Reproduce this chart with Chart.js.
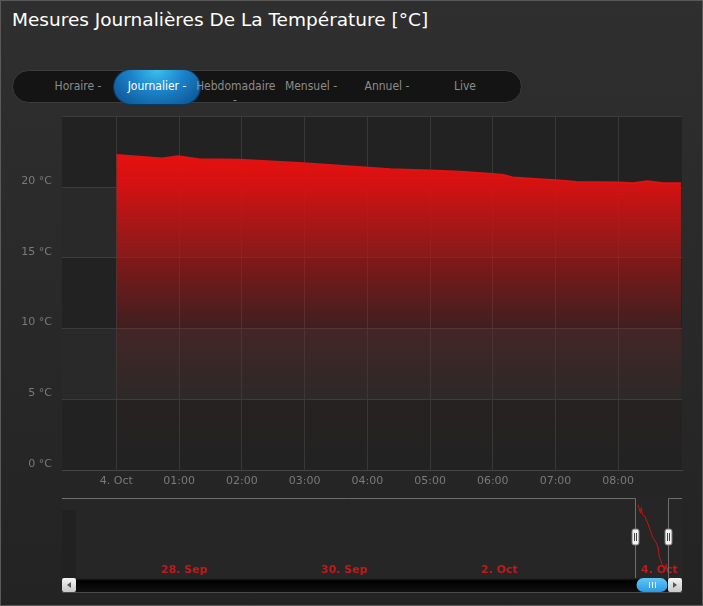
<!DOCTYPE html>
<html>
<head>
<meta charset="utf-8">
<script src="https://cdn.jsdelivr.net/npm/chart.js@4.4.0/dist/chart.umd.min.js"></script>
<style>
html, body { margin: 0; padding: 0; background: #262626; }
#frame {
    position: relative; width: 701px; height: 604px;
    border: 1px solid #5a5a5a;
    background: linear-gradient(#2f2f2f, #232323);
    overflow: hidden;
}
#title {
    position: absolute; left: 11px; top: 8px;
    color: #fff; font: 18.5px 'DejaVu Sans', sans-serif;
    white-space: nowrap;
}
#bar {
    position: absolute; left: 11px; top: 69px; width: 508px; height: 31px;
    background: #141414; border: 1px solid #3c3c3c; border-radius: 17px;
}
.btn {
    position: absolute; top: 78px; width: 78px; text-align: center;
    color: #8c8c8c; font: 12px 'DejaVu Sans Condensed', 'DejaVu Sans', sans-serif;
    line-height: 14px; white-space: nowrap;
}
#active {
    position: absolute; left: 113px; top: 69px; width: 86px; height: 34px;
    border-radius: 17px;
    background: radial-gradient(ellipse at 50% 0%, #3cc0ee 0%, #1b82c9 45%, #0b4e8a 100%);
    box-shadow: 0 0 0 1px #0a3a66;
}
#active + .btn { color: #fff; }
canvas { position: absolute; left: 0; }
#main { top: 99px; }
#nav { top: 494px; }
</style>
</head>
<body>
<div id="frame">
    <div id="title">Mesures Journalières De La Température [°C]</div>
    <div id="bar"></div>
    <div class="btn" style="left:38px">Horaire -</div>
    <div id="active"></div>
    <div class="btn" style="left:117px">Journalier -</div>
    <div class="btn" style="left:195px">Hebdomadaire<br>-</div>
    <div class="btn" style="left:271px">Mensuel -</div>
    <div class="btn" style="left:347px">Annuel -</div>
    <div class="btn" style="left:425px">Live</div>
    <canvas id="main" width="702" height="395"></canvas>
    <canvas id="nav" width="702" height="110"></canvas>
</div>
<script>
// minutes since 4 Oct 00:00, and temperature readings (°C)
const times = [0, 44, 59, 79, 118, 179, 224, 262, 300, 329, 360, 370, 379, 408, 421, 440, 480, 494, 508, 523, 540];
const temps = [22.29, 22.03, 22.2, 21.99, 21.94, 21.7, 21.47, 21.28, 21.18, 21.1, 20.94, 20.87, 20.69, 20.55, 20.5, 20.38, 20.33, 20.28, 20.43, 20.28, 20.28];

const hourTicks = [0, 60, 120, 180, 240, 300, 360, 420, 480];
const hourLabels = ['4. Oct', '01:00', '02:00', '03:00', '04:00', '05:00', '06:00', '07:00', '08:00'];

// navigator: days relative to 4 Oct
const navDays = [-6, -4, -2, 0];
const navLabels = ['28. Sep', '30. Sep', '2. Oct', '4. Oct'];

const viewMin = -52;
const viewMax = 541;
const bandRanges = [[15, 20], [5, 10]];

const points = times.map((t, i) => ({ x: t, y: temps[i] }));
const navPoints = times.map((t, i) => ({ x: t / 1440, y: temps[i] }));

const tickFont = { family: 'DejaVu Sans', size: 11 };

const bandsPlugin = {
    id: 'bands',
    beforeDraw(chart) {
        const { ctx, chartArea: a, scales: { y } } = chart;
        ctx.save();
        ctx.fillStyle = '#222222';
        ctx.fillRect(a.left, a.top, a.width, a.height);
        ctx.fillStyle = '#292929';
        bandRanges.forEach(([lo, hi]) => {
            const y0 = y.getPixelForValue(hi);
            const y1 = y.getPixelForValue(lo);
            ctx.fillRect(a.left, y0, a.width, y1 - y0);
        });
        ctx.restore();
    }
};

new Chart(document.getElementById('main'), {
    type: 'line',
    data: {
        datasets: [{
            data: points,
            borderColor: '#e01212',
            borderWidth: 2,
            pointRadius: 0,
            tension: 0,
            fill: 'origin',
            backgroundColor: (c) => {
                const a = c.chart.chartArea;
                if (!a) return 'rgba(220,16,16,0.5)';
                const g = c.chart.ctx.createLinearGradient(0, a.top, 0, a.bottom);
                g.addColorStop(0.1, 'rgba(234,16,16,1)');
                g.addColorStop(0.2, 'rgba(222,16,16,0.93)');
                g.addColorStop(0.4, 'rgba(205,16,16,0.56)');
                g.addColorStop(0.6, 'rgba(190,20,20,0.19)');
                g.addColorStop(0.8, 'rgba(160,30,30,0.04)');
                g.addColorStop(1, 'rgba(160,30,30,0)');
                return g;
            }
        }]
    },
    options: {
        responsive: false,
        animation: false,
        layout: { padding: { top: 7, right: 21, left: 0, bottom: 0 } },
        plugins: { legend: { display: false }, tooltip: { enabled: false } },
        scales: {
            x: {
                type: 'linear',
                min: viewMin,
                max: viewMax,
                afterBuildTicks: (s) => { s.ticks = hourTicks.map(v => ({ value: v })); },
                afterFit: (s) => { s.height = 25; },
                grid: { color: '#383838', drawTicks: false },
                border: { color: '#454545' },
                ticks: {
                    autoSkip: false, maxRotation: 0, padding: 5,
                    color: '#7a7a7a', font: tickFont,
                    callback: (v) => hourLabels[hourTicks.indexOf(v)]
                }
            },
            y: {
                min: 0,
                max: 25,
                afterFit: (s) => { s.width = 61; },
                grid: { color: '#3c3c3c', drawTicks: false },
                border: { display: false },
                ticks: {
                    stepSize: 5, padding: 10, labelOffset: -6,
                    color: '#7a7a7a', font: tickFont,
                    callback: (v) => v === 25 ? '' : v + ' °C'
                }
            }
        }
    },
    plugins: [bandsPlugin]
});

// navigator decorations: outline, handles, labels, scrollbar
const navPlugin = {
    id: 'navDeco',
    beforeDraw(chart) {
        const { ctx, chartArea: a } = chart;
        ctx.save();
        ctx.fillStyle = '#262626';
        ctx.fillRect(a.left, a.top, a.width, a.height);
        ctx.fillStyle = '#212121';
        ctx.fillRect(a.left, a.top + 12, 14, a.height - 12);
        ctx.restore();
    },
    afterDatasetsDraw(chart) {
        const { ctx, chartArea: a, scales: { x } } = chart;
        const h0 = Math.round(x.getPixelForValue(viewMin / 1440)) + 0.5;
        const h1 = Math.round(x.getPixelForValue(viewMax / 1440)) + 0.5;
        ctx.save();

        // labels
        ctx.fillStyle = '#c21a1a';
        ctx.font = 'bold 11px "DejaVu Sans"';
        ctx.textBaseline = 'middle';
        navDays.forEach((d, i) => {
            ctx.fillText(navLabels[i], x.getPixelForValue(d) + 3, a.bottom - 8);
        });

        // outline
        ctx.strokeStyle = '#6e6e6e';
        ctx.lineWidth = 1;
        ctx.beginPath();
        ctx.moveTo(a.left, a.top + 0.5);
        ctx.lineTo(h0, a.top + 0.5);
        ctx.lineTo(h0, a.bottom);
        ctx.moveTo(h1, a.bottom);
        ctx.lineTo(h1, a.top + 0.5);
        ctx.lineTo(a.right, a.top + 0.5);
        ctx.stroke();

        // scrollbar track
        const sy = a.bottom, sh = 14;
        const tg = ctx.createLinearGradient(0, sy, 0, sy + sh);
        tg.addColorStop(0, '#2a2a2a');
        tg.addColorStop(0.2, '#000');
        tg.addColorStop(1, '#101010');
        ctx.fillStyle = tg;
        ctx.fillRect(a.left, sy, a.width, sh);
        ctx.strokeStyle = '#4a4a4a';
        ctx.beginPath();
        ctx.moveTo(a.left, sy + sh + 0.5);
        ctx.lineTo(a.right, sy + sh + 0.5);
        ctx.stroke();

        // scrollbar buttons
        const drawButton = (bx, dir) => {
            const bg = ctx.createLinearGradient(0, sy, 0, sy + sh);
            bg.addColorStop(0, '#f4f4f4');
            bg.addColorStop(1, '#c8c8c8');
            ctx.fillStyle = bg;
            ctx.beginPath();
            ctx.roundRect(bx, sy, 14, sh, 2);
            ctx.fill();
            ctx.fillStyle = '#555';
            ctx.beginPath();
            const cx = bx + 7, cy = sy + sh / 2;
            ctx.moveTo(cx + 2 * dir, cy - 3);
            ctx.lineTo(cx - 2 * dir, cy);
            ctx.lineTo(cx + 2 * dir, cy + 3);
            ctx.fill();
        };
        drawButton(a.left, 1);
        drawButton(a.right - 14, -1);

        // scrollbar thumb
        const thg = ctx.createLinearGradient(0, sy, 0, sy + sh);
        thg.addColorStop(0, '#62c4f8');
        thg.addColorStop(1, '#2a9ae6');
        ctx.fillStyle = thg;
        ctx.beginPath();
        ctx.roundRect(h0 + 1, sy, h1 - h0 - 2, sh, 7);
        ctx.fill();
        ctx.strokeStyle = '#e8f6ff';
        const mid = Math.round((h0 + h1) / 2) + 0.5;
        ctx.beginPath();
        [-3, 0, 3].forEach(o => {
            ctx.moveTo(mid + o, sy + 4);
            ctx.lineTo(mid + o, sy + sh - 4);
        });
        ctx.stroke();

        // handles
        const hy = a.top + 31;
        [h0, h1].forEach(hx => {
            ctx.fillStyle = '#f2f2f2';
            ctx.strokeStyle = '#777';
            ctx.beginPath();
            ctx.roundRect(hx - 3.5, hy, 7, 16, 2);
            ctx.fill();
            ctx.stroke();
            ctx.strokeStyle = '#444';
            ctx.beginPath();
            ctx.moveTo(hx - 1, hy + 4);
            ctx.lineTo(hx - 1, hy + 12);
            ctx.moveTo(hx + 1, hy + 4);
            ctx.lineTo(hx + 1, hy + 12);
            ctx.stroke();
        });
        ctx.restore();
    }
};

new Chart(document.getElementById('nav'), {
    type: 'line',
    data: {
        datasets: [{
            data: navPoints,
            borderColor: '#c41414',
            borderWidth: 1,
            pointRadius: 0,
            tension: 0,
            fill: false
        }]
    },
    options: {
        responsive: false,
        animation: false,
        layout: { padding: { top: 3, right: 21, left: 61, bottom: 27 } },
        plugins: { legend: { display: false }, tooltip: { enabled: false } },
        scales: {
            x: { type: 'linear', min: -7.2, max: 0.55, display: false },
            y: { min: 20, max: 22.5, display: false }
        }
    },
    plugins: [navPlugin]
});
</script>
</body>
</html>
